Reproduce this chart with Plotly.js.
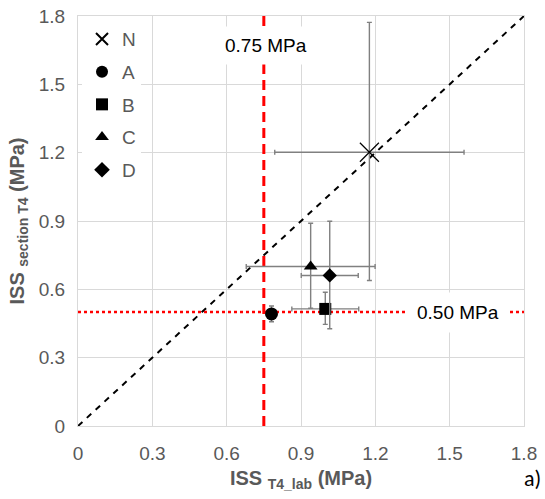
<!DOCTYPE html>
<html>
<head>
<meta charset="utf-8">
<script src="https://cdn.plot.ly/plotly-3.0.1.min.js"></script>
<style>html,body{margin:0;padding:0;background:#fff;}#chart{width:545px;height:499px;}</style>
</head>
<body>
<div id="chart"></div>
<script>
// Series (x = ISS T4_lab, y = ISS section T4), with error half-widths
const seriesNames = ["N", "A", "B", "C", "D"];
const xVals = [1.176, 0.781, 0.998, 0.939, 1.016];
const yVals = [1.202, 0.492, 0.514, 0.70, 0.661];
const xErr  = [0.382, 0, 0.135, 0.26, 0.115];
const yErrPlus  = [0.570, 0.035, 0.073, 0.19, 0.238];
const yErrMinus = [0.563, 0.034, 0.068, 0.183, 0.234];
const symbols = ["x-thin-open", "circle", "square", "triangle-up", "diamond"];

// Reference lines
const diagX = [0, 1.8];
const diagY = [0, 1.8];
const limitX = 0.75;   // MPa
const limitY = 0.50;   // MPa
const axisRange = [0, 1.8];
const tickStep = 0.3;

const gray = "#595959";
const traces = [];

traces.push({x: diagX, y: diagY, mode: "lines", showlegend: false, hoverinfo: "skip",
  line: {color: "#000", width: 2, dash: "6px,6px"}});
traces.push({x: [limitX, limitX], y: axisRange, mode: "lines", showlegend: false, hoverinfo: "skip",
  line: {color: "#ff0000", width: 3, dash: "10px,6px"}});
traces.push({x: axisRange, y: [limitY, limitY], mode: "lines", showlegend: false, hoverinfo: "skip",
  line: {color: "#ff0000", width: 2.5, dash: "dot"}});

const sizes = [19, 13, 12, 12, 11];
for (let i = 0; i < seriesNames.length; i++) {
  traces.push({
    x: [xVals[i]], y: [yVals[i]], name: seriesNames[i], legendgroup: "g" + i,
    mode: "markers", type: "scatter",
    marker: {symbol: symbols[i], size: sizes[i], color: "#000",
      line: {color: "#000", width: i === 0 ? 1.2 : 0}},
    error_x: {type: "data", array: [xErr[i]], visible: xErr[i] > 0, color: "#808080", thickness: 1.4, width: 2.5},
    error_y: {type: "data", symmetric: false, array: [yErrPlus[i]], arrayminus: [yErrMinus[i]],
      color: "#808080", thickness: 1.4, width: 2.5}
  });
}

const layout = {
  width: 545, height: 499,
  margin: {l: 78, r: 21, t: 16, b: 73},
  paper_bgcolor: "#fff", plot_bgcolor: "#fff",
  font: {family: "Liberation Sans, Arial, sans-serif", color: gray, size: 19},
  showlegend: true,
  legend: {x: 0.009, y: 0.99, xanchor: "left", yanchor: "top", bgcolor: "#fff",
    font: {size: 19, color: gray}, itemsizing: "constant", traceorder: "grouped", tracegroupgap: 5},
  xaxis: {range: axisRange, dtick: tickStep, tick0: 0, showgrid: true, gridcolor: "#d9d9d9",
    zeroline: false, showline: true, linecolor: "#d9d9d9", mirror: true, ticks: "",
    tickfont: {size: 19, color: gray}, ticklabelstandoff: 10,
    title: {text: "<b>ISS <sub>T4_lab</sub> (MPa)</b>", font: {size: 20, color: gray}, standoff: 8}},
  yaxis: {range: axisRange, dtick: tickStep, tick0: 0, showgrid: true, gridcolor: "#d9d9d9",
    zeroline: false, showline: true, linecolor: "#d9d9d9", mirror: true, ticks: "",
    tickfont: {size: 19, color: gray}, ticklabelstandoff: 8,
    title: {text: "<b>ISS <sub>section T4</sub> (MPa)</b>", font: {size: 20, color: gray}, standoff: 8}},
  annotations: [
    {x: 0.76, y: 1.67, xref: "x", yref: "y", text: "0.75 MPa", showarrow: false,
      bgcolor: "#fff", font: {size: 19, color: "#000"}, borderpad: 8},
    {x: 1.534, y: limitY, xref: "x", yref: "y", text: "0.50 MPa", showarrow: false,
      bgcolor: "#fff", font: {size: 19, color: "#000"}, borderpad: 9},
    {x: 1.0, y: -0.128, xref: "paper", yref: "paper", xanchor: "right", yanchor: "middle",
      text: "a)", showarrow: false, font: {size: 22, color: "#000", family: "Carlito, Calibri, Liberation Sans, sans-serif"}, xshift: 19}
  ]
};

Plotly.newPlot("chart", traces, layout, {displayModeBar: false, staticPlot: true});
</script>
</body>
</html>
